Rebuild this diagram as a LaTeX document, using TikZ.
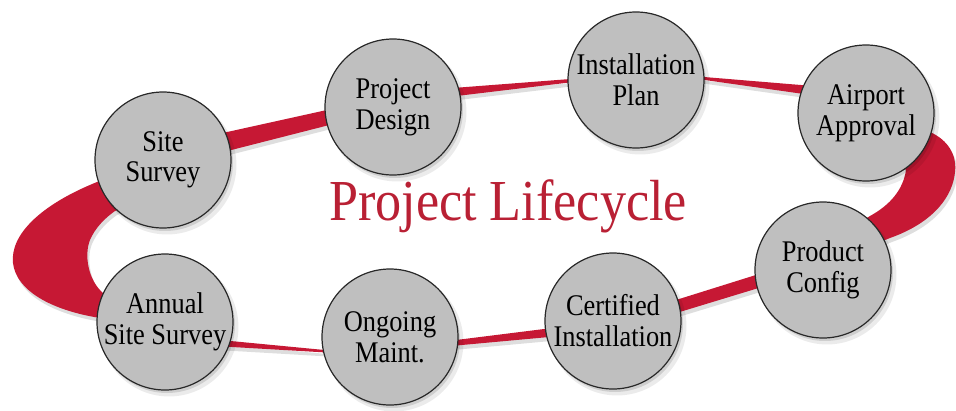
\documentclass[tikz,border=0pt]{standalone}
\usepackage{fontspec}
\setmainfont{Liberation Serif}
\newfontfamily\narrowserif[FakeStretch=0.88]{Liberation Serif}
\newfontfamily\titleserif[FakeStretch=0.9]{Liberation Serif}
\usetikzlibrary{shadows,backgrounds}
\definecolor{bandred}{RGB}{198,24,52}
\definecolor{titlered}{RGB}{185,32,52}
\definecolor{disc}{RGB}{191,191,191}
\definecolor{rim}{RGB}{40,40,40}
\tikzset{
 stage/.style={circle, minimum size=136pt, inner sep=0pt, fill=disc, draw=rim, line width=1.2pt,
   align=center, font=\narrowserif\fontsize{30}{31}\selectfont,
   drop shadow={shadow xshift=2pt, shadow yshift=-3pt, opacity=0.12, fill=black},
   drop shadow={shadow xshift=4pt, shadow yshift=-5pt, opacity=0.08, fill=black, shadow scale=1.02}},
 bandred fill/.style={fill=bandred},
 bandshadow/.style={fill=black, opacity=0.13},
 lifetitle/.style={text=titlered, font=\titleserif\fontsize{58}{64}\selectfont, inner sep=0pt, anchor=base},
 bandpath/.style={insert path={
   (130,170) -- (97,182) .. controls (40,205) and (10,235) .. (13,263)
     .. controls (16,290) and (50,310) .. (100,318) -- (130,322) -- (130,300) -- (103,293)
     .. controls (88,280) and (84,255) .. (90,240) .. controls (95,228) and (105,218) .. (115,211)
     -- (130,205) -- cycle
   (200,138) -- (345,106) -- (345,121) -- (200,158) -- cycle
   (440,89) -- (590,77.5) -- (590,80) -- (440,98) -- cycle
   (680,75) -- (825,87) -- (825,97) -- (680,76.5) -- cycle
   (905,128) -- (930,132) .. controls (948,140) and (957,155) .. (955,172)
     .. controls (953,195) and (935,222) .. (890,238) -- (865,248) -- (860,222) -- (870,216)
     .. controls (890,205) and (903,190) .. (906,170) -- (890,150) -- cycle
   (660,305) -- (775,269) -- (775,283) -- (660,318) -- cycle
   (440,342) -- (560,327) -- (560,336) -- (440,347) -- cycle
   (215,339.5) -- (335,351) -- (335,353) -- (215,346) -- cycle
 }}
}
\begin{document}
\begin{tikzpicture}[x=1pt,y=-1pt]
\useasboundingbox (0,0) rectangle (956,410);
\node[stage, font=\narrowserif\fontsize{30}{29.5}\selectfont] (site) at (163,160) {Site\\Survey};
\node[stage] (design) at (393,107) {Project\\Design};
\node[stage] (plan) at (636,80) {Installation\\Plan};
\node[stage] (airport) at (866,113) {Airport\\Approval};
\node[stage] (config) at (823,270) {Product\\Config};
\node[stage] (cert) at (613,321) {Certified\\Installation};
\node[stage] (maint) at (390,337) {Ongoing\\Maint.};
\node[stage] (annual) at (165,322) {Annual\\Site Survey};
\node[lifetitle] (title) at (508,220) {Project Lifecycle};
\begin{pgfonlayer}{background}
\fill[bandshadow, shift={(2,4)}, bandpath];
\fill[bandred fill, bandpath];
\end{pgfonlayer}
\end{tikzpicture}
\end{document}
